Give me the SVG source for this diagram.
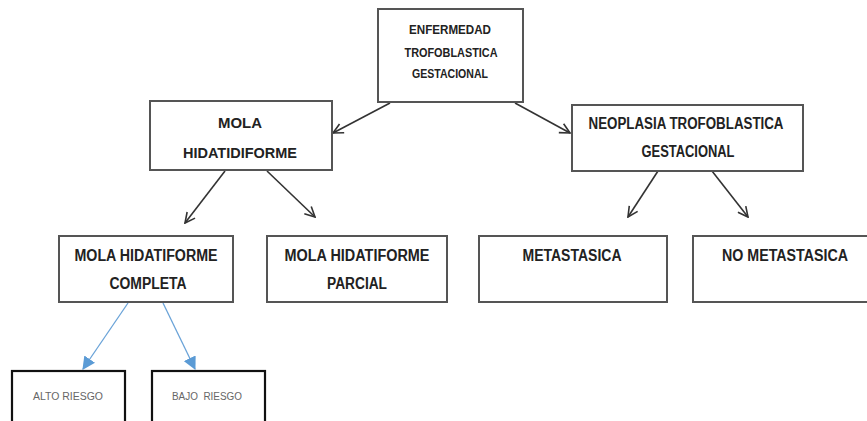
<svg xmlns="http://www.w3.org/2000/svg" width="867" height="421" viewBox="0 0 867 421">
<style>
.box{fill:#fff;stroke:#555;stroke-width:2}
.sbox{fill:#fff;stroke:#111;stroke-width:2.2}
.t{font-family:"Liberation Sans",Arial,sans-serif;font-weight:bold;fill:#222;text-anchor:middle}
.s{font-family:"Liberation Sans",Arial,sans-serif;fill:#666;text-anchor:middle;font-size:10px}
.k{stroke:#333;stroke-width:1.6;fill:none}
.b{stroke:#6aa3d8;stroke-width:1.3;fill:none}
</style>
<defs>
<marker id="ah" viewBox="0 0 12 12" refX="11" refY="6" markerWidth="12" markerHeight="12" markerUnits="userSpaceOnUse" orient="auto">
<path d="M1,1 L11,6 L1,11" fill="none" stroke="#333" stroke-width="1.6"/>
</marker>
<marker id="bh" viewBox="0 0 12 12" refX="11" refY="6" markerWidth="13" markerHeight="13" markerUnits="userSpaceOnUse" orient="auto">
<path d="M0,0 L12,6 L0,12 Z" fill="#5b9bd5"/>
</marker>
</defs>
<rect width="867" height="421" fill="#fff"/>
<g id="connectors">
<line class="k" x1="390" y1="103" x2="333" y2="133" marker-end="url(#ah)"/>
<line class="k" x1="515" y1="103" x2="570" y2="133" marker-end="url(#ah)"/>
<line class="k" x1="225" y1="171" x2="185" y2="223" marker-end="url(#ah)"/>
<line class="k" x1="267" y1="171" x2="315" y2="217" marker-end="url(#ah)"/>
<line class="k" x1="658" y1="171" x2="628" y2="217" marker-end="url(#ah)"/>
<line class="k" x1="712" y1="171" x2="748" y2="217" marker-end="url(#ah)"/>
<line class="b" x1="128" y1="303" x2="83" y2="369" marker-end="url(#bh)"/>
<line class="b" x1="163" y1="303" x2="195" y2="369" marker-end="url(#bh)"/>
</g>
<g id="enfermedad">
<rect class="box" x="378" y="9" width="145" height="93"/>
<text class="t" font-size="12" x="450" y="34" textLength="82" lengthAdjust="spacingAndGlyphs">ENFERMEDAD</text>
<text class="t" font-size="12" x="451" y="57" textLength="93" lengthAdjust="spacingAndGlyphs">TROFOBLASTICA</text>
<text class="t" font-size="12" x="450" y="78" textLength="76" lengthAdjust="spacingAndGlyphs">GESTACIONAL</text>
</g>
<g id="mola">
<rect class="box" x="150" y="101" width="182" height="69"/>
<text class="t" font-size="15.5" x="240" y="128" textLength="44" lengthAdjust="spacingAndGlyphs">MOLA</text>
<text class="t" font-size="15.5" x="240" y="158" textLength="114" lengthAdjust="spacingAndGlyphs">HIDATIDIFORME</text>
</g>
<g id="neoplasia">
<rect class="box" x="572" y="105" width="231" height="66"/>
<text class="t" font-size="16" x="686" y="129" textLength="195" lengthAdjust="spacingAndGlyphs">NEOPLASIA TROFOBLASTICA</text>
<text class="t" font-size="16" x="688" y="157" textLength="93" lengthAdjust="spacingAndGlyphs">GESTACIONAL</text>
</g>
<g id="completa">
<rect class="box" x="59" y="236" width="174" height="66"/>
<text class="t" font-size="16" x="146" y="261" textLength="143" lengthAdjust="spacingAndGlyphs">MOLA HIDATIFORME</text>
<text class="t" font-size="16" x="148" y="289" textLength="77" lengthAdjust="spacingAndGlyphs">COMPLETA</text>
</g>
<g id="parcial">
<rect class="box" x="267" y="236" width="180" height="66"/>
<text class="t" font-size="16" x="357" y="261" textLength="145" lengthAdjust="spacingAndGlyphs">MOLA HIDATIFORME</text>
<text class="t" font-size="16" x="357" y="289" textLength="60" lengthAdjust="spacingAndGlyphs">PARCIAL</text>
</g>
<g id="metastasica">
<rect class="box" x="479" y="236" width="188" height="66"/>
<text class="t" font-size="16" x="572" y="261" textLength="99" lengthAdjust="spacingAndGlyphs">METASTASICA</text>
</g>
<g id="nometastasica">
<rect class="box" x="693" y="236" width="186" height="66"/>
<text class="t" font-size="16" x="785" y="261" textLength="126" lengthAdjust="spacingAndGlyphs">NO METASTASICA</text>
</g>
<g id="alto">
<rect class="sbox" x="12" y="371" width="113" height="56"/>
<text class="s" x="68" y="400" textLength="70" lengthAdjust="spacingAndGlyphs">ALTO RIESGO</text>
</g>
<g id="bajo">
<rect class="sbox" x="152" y="371" width="113" height="56"/>
<text class="s" x="207" y="400" textLength="70" lengthAdjust="spacingAndGlyphs" xml:space="preserve">BAJO  RIESGO</text>
</g>
</svg>
